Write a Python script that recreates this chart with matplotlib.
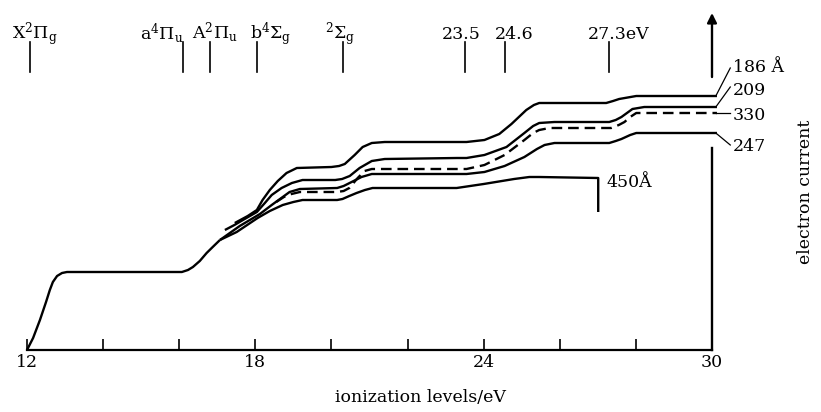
import matplotlib
matplotlib.use('Agg')
import matplotlib.pyplot as plt
import numpy as np

plt.rcParams['font.family'] = ['DejaVu Serif']
plt.rcParams['mathtext.fontset'] = 'dejavuserif'

# ---------------- data (energy in eV, electron current in arbitrary units) ----------------
common_ev = [12.0, 12.16, 12.34, 12.50, 12.60, 12.68, 12.79, 12.92, 13.05, 16.07, 16.23,
             16.36, 16.54, 16.72, 16.88, 17.07]
common_i = [0, 12, 30, 48, 60, 68, 74, 77, 78, 78, 80, 83, 89, 97, 103, 110]

c450_ev = [17.07, 17.51, 18.06, 18.38, 18.72, 19.0, 19.24, 20.15, 20.29, 20.47, 20.66,
           20.88, 21.08, 23.29, 24.0, 24.8, 25.2, 25.46, 27.01, 27.01]
c450_i = [110, 118, 132, 139, 145, 148, 150, 150, 151, 154, 157, 160, 162, 162, 166, 171,
          173, 173, 172, 138]

c247_ev = [17.07, 17.33, 17.59, 18.12, 18.43, 18.72, 18.90, 19.17, 20.15, 20.32, 20.53,
           20.79, 21.06, 23.3, 23.55, 24.02, 24.55, 25.07, 25.40, 25.60, 25.86, 27.30,
           27.47, 27.62, 27.85, 28.01, 30.13]
c247_i = [110, 117, 124, 136, 145, 153, 158, 161, 162, 164, 168, 173, 176, 176, 176, 178,
          184, 193, 201, 205, 207, 207, 209, 211, 215, 217, 217]

c330_ev = [18.55, 18.75, 18.95, 19.17, 20.15, 20.32, 20.47, 20.69, 20.87, 21.06, 23.3,
           23.55, 24.02, 24.55, 25.07, 25.30, 25.46, 25.73, 27.35, 27.55, 27.70, 27.85,
           28.01, 30.13]
c330_i = [148, 153, 156, 158, 158, 159, 162, 172, 179, 181, 181, 181, 185, 195, 210, 217,
          220, 222, 222, 225, 228, 233, 237, 237]

c209_ev = [17.20, 17.45, 17.72, 18.04, 18.25, 18.43, 18.69, 18.96, 19.24, 20.10, 20.28,
           20.48, 20.74, 21.06, 21.40, 23.3, 23.55, 24.02, 24.60, 25.07, 25.30, 25.46,
           25.86, 27.30, 27.47, 27.62, 27.91, 28.22, 30.13]
c209_i = [120, 125, 131, 138, 147, 155, 162, 167, 170, 170, 171, 174, 182, 189, 191, 192,
          192, 195, 203, 217, 224, 227, 228, 228, 230, 233, 241, 243, 243]

c186_ev = [17.46, 17.80, 18.04, 18.19, 18.38, 18.59, 18.82, 19.09, 20.00, 20.20, 20.35,
           20.61, 20.82, 21.06, 21.40, 23.3, 23.55, 24.02, 24.41, 24.73, 25.12, 25.32,
           25.46, 25.86, 27.22, 27.40, 27.56, 28.01, 30.13]
c186_i = [127, 134, 140, 150, 160, 169, 177, 182, 183, 184, 186, 195, 203, 207, 208, 208,
          208, 210, 216, 226, 240, 245, 247, 247, 247, 249, 251, 254, 254]

level_ev = [12.07, 16.1, 16.8, 18.05, 20.3, 23.5, 24.55, 27.3]
level_labels = [r'X$^2\Pi_\mathrm{g}$', r'a$^4\Pi_\mathrm{u}$', r'A$^2\Pi_\mathrm{u}$',
                r'b$^4\Sigma_\mathrm{g}$', r'$^2\Sigma_\mathrm{g}$', '23.5', '24.6', '27.3eV']
level_label_x = [11.61, 14.97, 16.34, 17.86, 19.83, 22.90, 24.30, 26.74]

x_ticks = [12, 14, 16, 18, 20, 22, 24, 26, 28, 30]
x_ticklabels = ['12', '', '', '18', '', '', '24', '', '', '30']

# ---------------- figure ----------------
fig = plt.figure(figsize=(8.21, 4.12), dpi=100)
ax = fig.add_axes([27 / 821, 62 / 412, 685 / 821, 336 / 412])
ax.set_xlim(12, 30)
ax.set_ylim(0, 336)
for s in ['left', 'top', 'right']:
    ax.spines[s].set_visible(False)
ax.spines['bottom'].set_linewidth(1.6)
ax.set_yticks([])
ax.set_xticks(x_ticks)
ax.set_xticklabels(x_ticklabels)
ax.tick_params(axis='x', direction='in', length=8, width=1.2, labelsize=12.5, pad=3)

lw = 1.7
kw = dict(color='black', lw=lw, clip_on=False, solid_joinstyle='round', solid_capstyle='butt')
ax.plot(common_ev, common_i, **kw)
ax.plot(c450_ev, c450_i, **kw)
ax.plot(c247_ev, c247_i, **kw)
ax.plot(c209_ev, c209_i, **kw)
ax.plot(c186_ev, c186_i, **kw)
ax.plot(c330_ev, c330_i, color='black', lw=lw, clip_on=False, dashes=(4.5, 2.5))

# right-hand axis (broken where curves end) with arrow
ax.plot([30, 30], [0, 202], color='black', lw=1.7, clip_on=False)
ax.annotate('', xy=(30, 337), xytext=(30, 273),
            arrowprops=dict(arrowstyle='-|>', color='black', lw=1.7, mutation_scale=14,
                            shrinkA=0, shrinkB=0),
            annotation_clip=False)

# top level markers
for e, lab, lx in zip(level_ev, level_labels, level_label_x):
    ax.plot([e, e], [278, 308], color='black', lw=1.2, clip_on=False)
    ax.text(lx, 311, lab, ha='left', va='baseline', fontsize=12.5)

# wavelength labels with leaders
leaders = [((30.1, 254), (30.48, 282)), ((30.1, 243), (30.48, 263)),
           ((30.1, 237), (30.48, 237)), ((30.1, 217), (30.48, 205))]
for (x0, y0), (x1, y1) in leaders:
    ax.plot([x0, x1], [y0, y1], color='black', lw=0.9, clip_on=False)
ax.text(30.55, 278, '186 Å', ha='left', va='baseline', fontsize=12.5)
ax.text(30.55, 255, '209', ha='left', va='baseline', fontsize=12.5)
ax.text(30.55, 230, '330', ha='left', va='baseline', fontsize=12.5)
ax.text(30.55, 199, '247', ha='left', va='baseline', fontsize=12.5)
ax.text(27.24, 163, '450Å', ha='left', va='baseline', fontsize=12.5)

fig.text(420 / 821, 1 - 398 / 412, 'ionization levels/eV', ha='center', va='center',
         fontsize=12.5)
fig.text(805 / 821, 1 - 192 / 412, 'electron current', ha='center', va='center',
         rotation=90, fontsize=12.5)

fig.savefig('out.png', dpi=100)
